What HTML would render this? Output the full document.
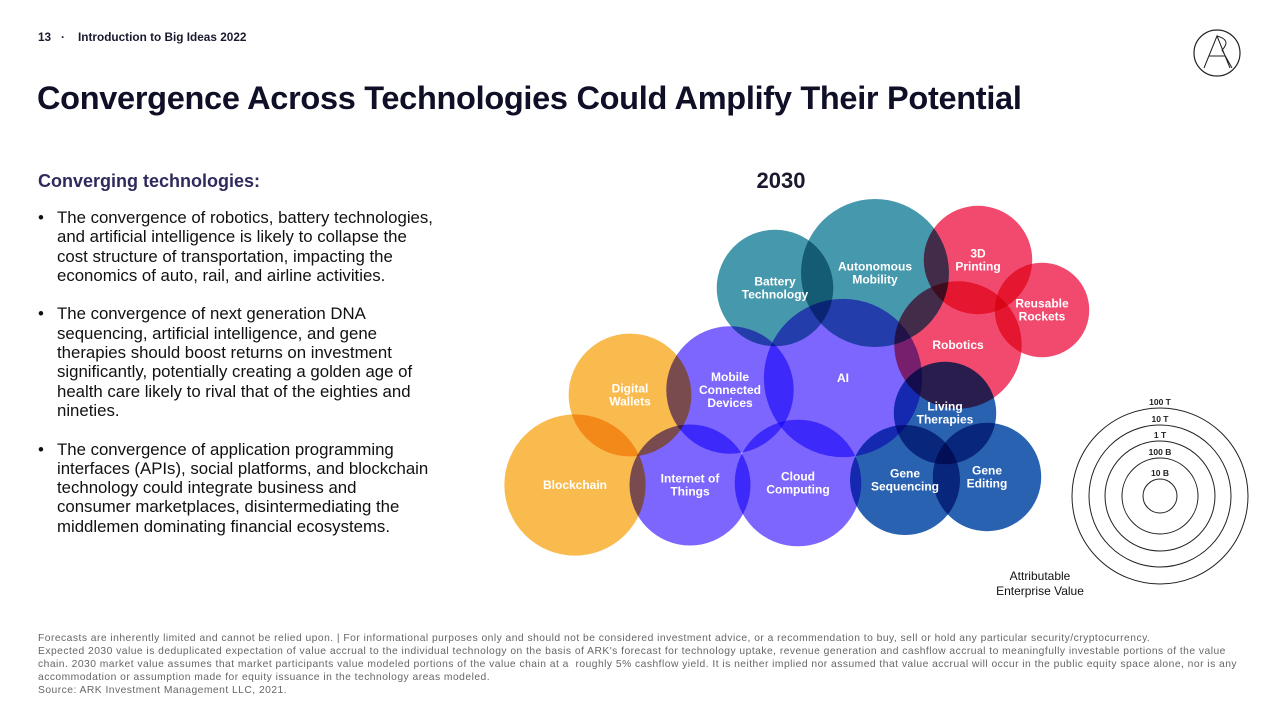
<!DOCTYPE html>
<html><head><meta charset="utf-8"><style>
body{margin:0;width:1280px;height:720px;background:#fff;font-family:"Liberation Sans",sans-serif;position:relative;overflow:hidden;color:#111}
.abs{position:absolute}
#hdr{left:38px;top:30px;font-size:11.8px;font-weight:bold;color:#1a1a2e}
#title{left:37px;top:80px;font-size:32.5px;font-weight:bold;color:#0f0f28;letter-spacing:-0.3px;white-space:nowrap}
#sub{left:38px;top:171px;font-size:18px;font-weight:bold;color:#2e2a5c}
ul{position:absolute;left:38px;top:208px;margin:0;padding:0;list-style:none;font-size:16.8px;line-height:19.3px;color:#111;white-space:nowrap}
li{position:relative;padding-left:19px;margin-bottom:19.3px}
li:before{content:"•";position:absolute;left:0}
#foot{left:38px;top:632px;font-size:10.3px;line-height:13px;color:#666;white-space:nowrap;letter-spacing:0.47px}
</style></head><body>
<div class="abs" id="hdr">13 &nbsp;&nbsp;·&nbsp;&nbsp;&nbsp; Introduction to Big Ideas 2022</div>
<svg class="abs" style="left:1192px;top:28px" width="50" height="50"><circle cx="25" cy="25" r="23" fill="none" stroke="#222" stroke-width="1.2"/><path d="M12 40 L25 8 L38 40 M17 28 L33 28 M25 8 Q40 12 30 22 L40 40" fill="none" stroke="#222" stroke-width="1"/></svg>
<div class="abs" id="title">Convergence Across Technologies Could Amplify Their Potential</div>
<div class="abs" id="sub">Converging technologies:</div>
<ul>
<li>The convergence of robotics, battery technologies,<br>and artificial intelligence is likely to collapse the<br>cost structure of transportation, impacting the<br>economics of auto, rail, and airline activities.</li>
<li>The convergence of next generation DNA<br>sequencing, artificial intelligence, and gene<br>therapies should boost returns on investment<br>significantly, potentially creating a golden age of<br>health care likely to rival that of the eighties and<br>nineties.</li>
<li>The convergence of application programming<br>interfaces (APIs), social platforms, and blockchain<br>technology could integrate business and<br>consumer marketplaces, disintermediating the<br>middlemen dominating financial ecosystems.</li>
</ul>
<svg class="abs" style="left:0;top:0" width="1280" height="630" id="chart">
<text x="781" y="188" font-size="22" font-weight="bold" fill="#1a1a2e" text-anchor="middle">2030</text>
<g id="bubbles" style="isolation:isolate"></g>
<g id="labels"></g>
<g id="legend"></g>
<text x="1040" y="580" font-size="12" fill="#111" text-anchor="middle"><tspan x="1040">Attributable</tspan><tspan x="1040" dy="15">Enterprise Value</tspan></text>
</svg>
<div class="abs" id="foot">Forecasts are inherently limited and cannot be relied upon. | For informational purposes only and should not be considered investment advice, or a recommendation to buy, sell or hold any particular security/cryptocurrency.<br>Expected 2030 value is deduplicated expectation of value accrual to the individual technology on the basis of ARK's forecast for technology uptake, revenue generation and cashflow accrual to meaningfully investable portions of the value<br>chain. 2030 market value assumes that market participants value modeled portions of the value chain at a &nbsp;roughly 5% cashflow yield. It is neither implied nor assumed that value accrual will occur in the public equity space alone, nor is any<br>accommodation or assumption made for equity issuance in the technology areas modeled.<br>Source: ARK Investment Management LLC, 2021.</div>
<script>
const names=["Blockchain","Digital Wallets","Mobile Connected Devices","Internet of Things","Cloud Computing","AI","Battery Technology","Autonomous Mobility","3D Printing","Reusable Rockets","Robotics","Living Therapies","Gene Sequencing","Gene Editing"];
const labels=[["Blockchain"],["Digital","Wallets"],["Mobile","Connected","Devices"],["Internet of","Things"],["Cloud","Computing"],["AI"],["Battery","Technology"],["Autonomous","Mobility"],["3D","Printing"],["Reusable","Rockets"],["Robotics"],["Living","Therapies"],["Gene","Sequencing"],["Gene","Editing"]];
const groups=["fin","fin","ai","ai","ai","ai","trans","trans","mfg","mfg","mfg","bio","bio","bio"];
// attributable enterprise value in trillions (read against legend rings)
const values=[9.5,2.5,3.5,2.2,3.3,30,1.6,15,0.9,0.35,3.5,0.6,1.0,0.9];
const centerX=[575,630,730,690,798,843,775,875,978,1042,958,945,905,987];
const centerY=[485,395,390,485,483,378,288,273,260,310,345,413,480,477];
const legendVals=[100,10,1,0.1,0.01];
const legendLabels=["100 T","10 T","1 T","100 B","10 B"];
const legendR=[88,71,55,38,17];
function rScale(v){
  const lv=Math.log10(v);
  for(let i=0;i<legendVals.length-1;i++){
    const a=Math.log10(legendVals[i]),b=Math.log10(legendVals[i+1]);
    if(lv<=a&&lv>=b){return legendR[i+1]+(lv-b)/(a-b)*(legendR[i]-legendR[i+1]);}
  }
  return lv>2?legendR[0]:legendR[4];
}
const colors={fin:"#f9bb4e",ai:"#7d66fd",trans:"#4698ac",mfg:"#f24a6e",bio:"#2a62b2"};
const NS="http://www.w3.org/2000/svg";
const g=document.getElementById("bubbles");
const gl=document.getElementById("labels");
names.forEach((n,i)=>{
  const c=document.createElementNS(NS,"circle");
  c.setAttribute("cx",centerX[i]);c.setAttribute("cy",centerY[i]);c.setAttribute("r",rScale(values[i]));
  c.setAttribute("fill",colors[groups[i]]);
  c.style.mixBlendMode="multiply";
  
  
  g.appendChild(c);
});
names.forEach((n,i)=>{
  const t=document.createElementNS(NS,"text");
  const L=labels[i];
  t.setAttribute("x",centerX[i]);t.setAttribute("text-anchor","middle");
  t.setAttribute("font-size","12");t.setAttribute("font-weight","bold");t.setAttribute("fill","#fff");
  t.setAttribute("y",centerY[i]+4-(L.length-1)*6.5);
  L.forEach((s,k)=>{const sp=document.createElementNS(NS,"tspan");sp.setAttribute("x",centerX[i]);if(k)sp.setAttribute("dy","13");sp.textContent=s;t.appendChild(sp);});
  
  
  gl.appendChild(t);
});
const lg=document.getElementById("legend");
const lcx=1160,lcy=496;
legendVals.forEach((v,i)=>{
  const r=rScale(v);
  const c=document.createElementNS(NS,"circle");
  c.setAttribute("cx",lcx);c.setAttribute("cy",lcy);c.setAttribute("r",r);
  c.setAttribute("fill","none");c.setAttribute("stroke","#222");c.setAttribute("stroke-width","1");
  
  
  lg.appendChild(c);
  const t=document.createElementNS(NS,"text");
  t.setAttribute("x",lcx);t.setAttribute("y",lcy-r-3);t.setAttribute("text-anchor","middle");
  t.setAttribute("font-size","8.5");t.setAttribute("font-weight","bold");t.setAttribute("fill","#222");
  t.textContent=legendLabels[i];
  
  
  lg.appendChild(t);
});
</script>
</body></html>
